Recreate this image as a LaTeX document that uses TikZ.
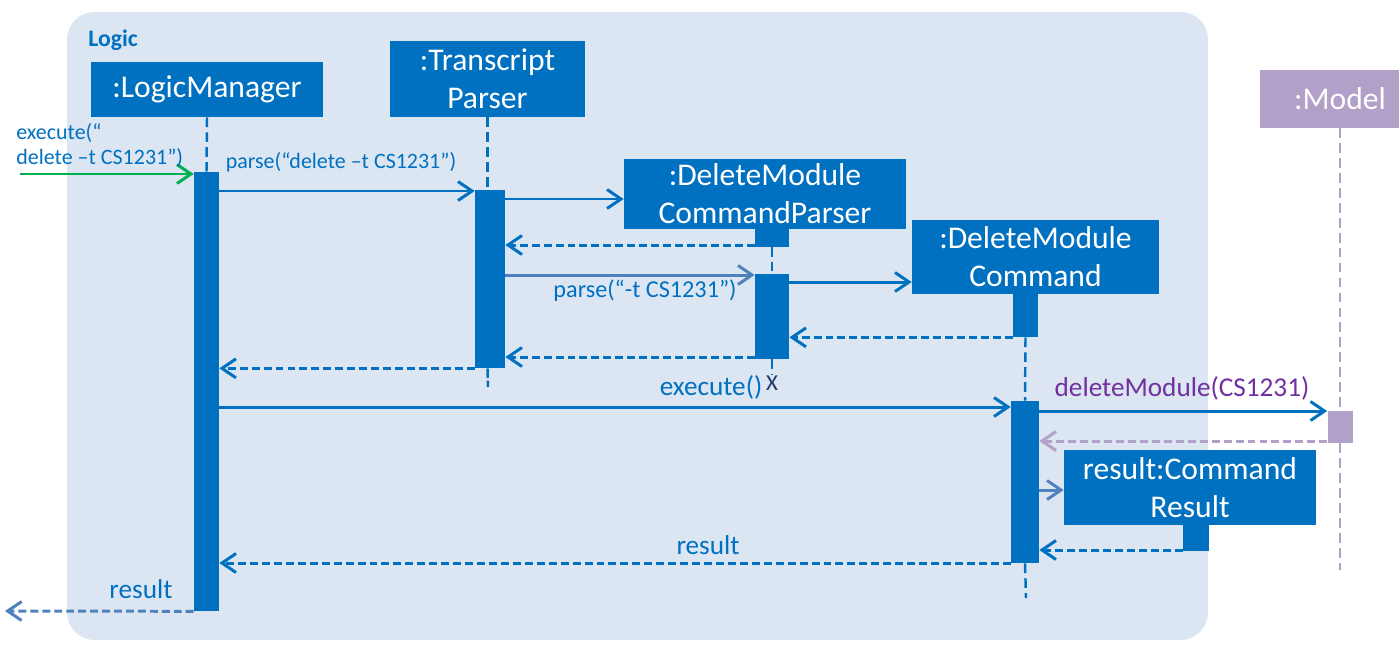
\documentclass[tikz,border=0pt]{standalone}
\usepackage{fontspec}
\setmainfont{Carlito}
\usepackage{tikz}
\usetikzlibrary{arrows.meta}

\definecolor{logicblue}{HTML}{0070C0}
\definecolor{paleblue}{HTML}{DCE6F2}
\definecolor{softblue}{HTML}{4F81BD}
\definecolor{modellilac}{HTML}{B1A0C7}
\definecolor{callpurple}{HTML}{7030A0}
\definecolor{callgreen}{HTML}{00B050}
\definecolor{killnavy}{HTML}{1F3864}

\begin{document}
\begin{tikzpicture}[x=0.02cm, y=-0.02cm,
    obj/.style={fill=logicblue, text=white, inner sep=0pt, align=center,
                font=\fontsize{18}{21.5}\selectfont},
    bar/.style={fill=logicblue, inner sep=0pt},
    life/.style={logicblue, line width=1.4pt, dash pattern=on 5.5pt off 3pt},
    call/.style={logicblue, line width=1.7pt,
                 -{Straight Barb[length=2.8mm,width=3.8mm]}},
    reply/.style={call, dash pattern=on 4.5pt off 2.3pt},
    msg/.style={text=logicblue, inner sep=0pt, font=\fontsize{15.5}{18}\selectfont},
    note/.style={text=logicblue, inner sep=0pt, align=left,
                 font=\fontsize{12.5}{14.2}\selectfont}]
             \useasboundingbox (0,0) rectangle (1399,653);

             % frame
             \fill[paleblue, rounded corners=0.55cm] (67,12) rectangle (1208,640);
             \node[text=logicblue, inner sep=0pt, anchor=west,
                   font=\bfseries\fontsize{13.5}{16}\selectfont] (title) at (88,40) {Logic};

             % objects
             \node[obj, minimum width=4.64cm, minimum height=1.1cm] (lm) at (207,89.5) {:LogicManager};
             \node[obj, minimum width=3.9cm, minimum height=1.52cm] (tp) at (487.5,79) {:Transcript\\Parser};
             \node[obj, minimum width=5.64cm, minimum height=1.4cm] (dmcp) at (765,194) {:DeleteModule\\CommandParser};
             \node[obj, minimum width=4.94cm, minimum height=1.48cm] (dmc) at (1035.5,257) {:DeleteModule\\Command};
             \node[obj, fill=modellilac, minimum width=3.2cm, minimum height=1.16cm] (model) at (1340,99) {:Model};
             \node[obj, minimum width=5.04cm, minimum height=1.5cm] (res) at (1190,487.5) {result:Command\\Result};

             % activation bars
             \node[bar, minimum width=0.5cm, minimum height=8.78cm] (blm) at (206.5,391.5) {};
             \node[bar, minimum width=0.6cm, minimum height=3.56cm] (btp) at (490,279) {};
             \node[bar, minimum width=0.68cm, minimum height=0.38cm] (sdmcp) at (772,237) {};
             \node[bar, minimum width=0.68cm, minimum height=1.7cm] (bdmcp) at (772,316.5) {};
             \node[bar, minimum width=0.5cm, minimum height=0.9cm] (sdmc) at (1025.5,314.5) {};
             \node[bar, minimum width=0.56cm, minimum height=3.24cm] (bdmc) at (1025,482) {};
             \node[bar, fill=modellilac, minimum width=0.5cm, minimum height=0.64cm] (bmodel) at (1340,427) {};
             \node[bar, minimum width=0.52cm, minimum height=0.54cm] (sres) at (1196,537.5) {};

             % lifelines
             \node[text=killnavy, inner sep=0pt, font=\fontsize{13}{15}\selectfont] (kill) at (772,383) {X};
             \coordinate (tpend) at (488,387);
             \coordinate (dmcend) at (1026,598);
             \coordinate (modelend) at (1340,570);
             \draw[life] (lm.south) -- (blm.north);
             \draw[life] (tp.south) -- (tp.south |- btp.north);
             \draw[life, dash pattern=on 5.5pt off 1.5pt] (tp.south |- btp.south) -- (tpend);
             \draw[life] (sdmcp.south) -- (bdmcp.north);
             \draw[life] (bdmcp.south) -- (kill.north);
             \draw[life] (sdmc.south) -- (bdmc.north);
             \draw[life] (bdmc.south) -- (dmcend);
             \draw[life, modellilac] (model.south) -- (bmodel.north);
             \draw[life, modellilac] (bmodel.south) -- (modelend);

             % messages
             \coordinate (start) at (20,174);
             \coordinate (finish) at (5,611);
             \draw[call, callgreen] (start) -- (blm.west |- start);
             \node[note, anchor=west] (inlbl) at (16,145.5) {execute(“\\delete –t CS1231”)};

             \draw[call] (blm.east |- 0,191) -- (btp.west |- 0,191);
             \node[note] (parselbl) at (341,162) {parse(“delete –t CS1231”)};

             \draw[call] (btp.east |- 0,199) -- (dmcp.west |- 0,199);
             \draw[reply] (sdmcp.west |- 0,245) -- (btp.east |- 0,245);

             \draw[call, softblue] (btp.east |- 0,275) -- (bdmcp.west |- 0,275);
             \node[note, font=\fontsize{13.8}{16}\selectfont] (argslbl) at (645,291) {parse(“-t CS1231”)};

             \draw[call] (bdmcp.east |- 0,282) -- (dmc.west |- 0,282);
             \draw[reply] (sdmc.south west) -- (bdmcp.east |- sdmc.south west);
             \draw[reply] (bdmcp.west |- 0,357) -- (btp.east |- 0,357);
             \draw[reply] (btp.south west) -- (blm.east |- btp.south west);

             \draw[call] (blm.east |- 0,407) -- (bdmc.west |- 0,407);
             \node[msg] (execlbl) at (711,387) {execute()};

             \draw[call] (bdmc.east |- 0,411) -- (bmodel.west |- 0,411);
             \node[msg, text=callpurple] (dellbl) at (1182,388) {deleteModule(CS1231)};
             \draw[reply, modellilac] (bmodel.west |- 0,441) -- (bdmc.east |- 0,441);

             \draw[call, softblue] (bdmc.east |- 0,490) -- (res.west |- 0,490);
             \draw[reply] (sres.west |- 0,550) -- (bdmc.east |- 0,550);

             \draw[reply] (bdmc.west |- 0,563) -- (blm.east |- 0,563);
             \node[msg] (reslbl) at (708,545) {result};

             \draw[reply, softblue] (blm.south west) -- (finish);
             \node[msg] (outlbl) at (141,589) {result};
\end{tikzpicture}
\end{document}
